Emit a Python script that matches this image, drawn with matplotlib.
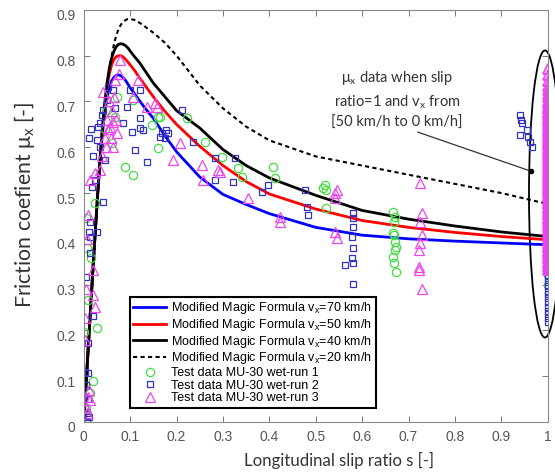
import numpy as np
import matplotlib.pyplot as plt
import matplotlib.transforms as mtransforms
from matplotlib.patches import Ellipse

plt.rcParams['font.family'] = ['Liberation Sans', 'DejaVu Sans']
plt.rcParams['mathtext.fontset'] = 'custom'
plt.rcParams['mathtext.rm'] = 'Liberation Sans'
plt.rcParams['mathtext.it'] = 'Liberation Sans:italic'

#--------- model curves (Modified Magic Formula) ---------
s_curve = [0, 0.01, 0.02, 0.03, 0.035, 0.04, 0.045, 0.05, 0.055, 0.06, 0.065, 0.07,
           0.075, 0.08, 0.085, 0.09, 0.095, 0.10, 0.11, 0.12, 0.13, 0.15, 0.175, 0.2,
           0.25, 0.3, 0.35, 0.4, 0.5, 0.6, 0.7, 0.8, 0.9, 1.0]
mu_70 = [0, 0.17, 0.34, 0.50, 0.57, 0.63, 0.675, 0.708, 0.73, 0.745, 0.753, 0.757,
         0.758, 0.756, 0.752, 0.746, 0.738, 0.73, 0.716, 0.702, 0.688, 0.663, 0.625, 0.59,
         0.535, 0.497, 0.475, 0.455, 0.425, 0.408, 0.400, 0.395, 0.391, 0.387]
mu_50 = [0, 0.17, 0.34, 0.50, 0.575, 0.64, 0.69, 0.73, 0.76, 0.78, 0.792, 0.798,
         0.80, 0.80, 0.797, 0.792, 0.786, 0.78, 0.767, 0.752, 0.738, 0.71, 0.678, 0.65,
         0.602, 0.56, 0.525, 0.498, 0.465, 0.44, 0.425, 0.414, 0.405, 0.398]
mu_40 = [0, 0.17, 0.34, 0.50, 0.575, 0.64, 0.695, 0.74, 0.773, 0.795, 0.81, 0.82,
         0.825, 0.826, 0.825, 0.822, 0.817, 0.81, 0.797, 0.785, 0.77, 0.74, 0.71, 0.68,
         0.642, 0.595, 0.56, 0.533, 0.495, 0.462, 0.443, 0.428, 0.415, 0.405]
mu_20 = [0, 0.16, 0.33, 0.49, 0.565, 0.63, 0.685, 0.73, 0.77, 0.80, 0.825, 0.845,
         0.858, 0.868, 0.874, 0.878, 0.88, 0.88, 0.878, 0.872, 0.865, 0.85, 0.828, 0.80,
         0.735, 0.685, 0.645, 0.615, 0.58, 0.56, 0.54, 0.52, 0.50, 0.476]

#--------- test data ---------
# run 1
s_run1 = [0.0, 0.028, 0.024, 0.004, 0.009, 0.013, 0.015, 0.004, 0.02, 0.006,
          0.05, 0.06, 0.067, 0.071, 0.045, 0.088, 0.106, 0.106, 0.147, 0.159,
          0.164, 0.159, 0.222, 0.261, 0.297, 0.332, 0.34, 0.407, 0.412, 0.519,
          0.523, 0.516, 0.523, 0.666, 0.67, 0.668, 0.666, 0.668, 0.67, 0.672,
          0.67, 0.666, 0.668, 0.672]
mu_run1 = [0.197, 0.205, 0.478, 0.446, 0.266, 0.063, 0.358, 0.03, 0.09, 0.38,
           0.681, 0.609, 0.666, 0.71, 0.64, 0.557, 0.54, 0.703, 0.649, 0.666,
           0.666, 0.598, 0.664, 0.612, 0.579, 0.555, 0.535, 0.557, 0.533, 0.518,
           0.507, 0.511, 0.467, 0.459, 0.448, 0.437, 0.413, 0.408, 0.393, 0.382,
           0.376, 0.36, 0.347, 0.328]
# run 1 at s = 1 (locked wheel)
mu_run1_lock = [0.30, 0.32, 0.34, 0.36, 0.38, 0.40, 0.42, 0.44, 0.46, 0.48, 0.50,
                0.52, 0.54, 0.56, 0.58, 0.60, 0.62, 0.64, 0.66, 0.68, 0.70, 0.72]

# run 2
s_run2 = [0.0, 0.009, 0.002, 0.004, 0.011, 0.013, 0.013, 0.019, 0.028, 0.041,
          0.013, 0.009, 0.006, 0.002, 0.004, 0.008, 0.006, 0.011, 0.011, 0.015,
          0.02, 0.017, 0.024, 0.028, 0.030, 0.034, 0.039, 0.041, 0.05, 0.045,
          0.034, 0.067, 0.093, 0.084, 0.11, 0.136, 0.121, 0.103, 0.127, 0.099,
          0.052, 0.063, 0.178, 0.168, 0.175, 0.235, 0.211, 0.121, 0.121, 0.164,
          0.181, 0.282, 0.325, 0.321, 0.282, 0.384, 0.397, 0.476, 0.48, 0.483,
          0.58, 0.58, 0.58, 0.578, 0.58, 0.578, 0.58, 0.563, 0.58,
          0.94, 0.942, 0.944, 0.94, 0.955, 0.957, 0.961, 0.965]
mu_run2 = [0.055, 0.107, 0.11, 0.317, 0.415, 0.437, 0.404, 0.232, 0.415, 0.48,
           0.369, 0.172, 0.02, 0.03, 0.08, 0.05, 0.0, 0.01, 0.62, 0.64,
           0.58, 0.513, 0.529, 0.616, 0.644, 0.653, 0.67, 0.681, 0.703, 0.572,
           0.6, 0.686, 0.688, 0.653, 0.594, 0.568, 0.664, 0.634, 0.638, 0.725,
           0.732, 0.725, 0.638, 0.631, 0.62, 0.612, 0.681, 0.642, 0.725, 0.623,
           0.631, 0.577, 0.577, 0.524, 0.529, 0.502, 0.518, 0.507, 0.47, 0.452,
           0.457, 0.445, 0.426, 0.404, 0.38, 0.358, 0.347, 0.343, 0.302,
           0.671, 0.66, 0.653, 0.627, 0.638, 0.623, 0.612, 0.6]
mu_run2_lock = [0.218, 0.226, 0.235, 0.243, 0.252, 0.261, 0.27, 0.279, 0.287, 0.296,
                0.305, 0.314, 0.322, 0.33, 0.36, 0.40, 0.44, 0.48, 0.52, 0.56, 0.60,
                0.64, 0.68, 0.70]

# run 3
s_run3 = [0.009, 0.006, 0.004, 0.002, 0.002, 0.009, 0.013, 0.019, 0.024, 0.019,
          0.004, 0.011, 0.006, 0.013, 0.024, 0.056, 0.063, 0.071, 0.078, 0.067,
          0.106, 0.136, 0.157, 0.192, 0.116, 0.153, 0.207, 0.254, 0.293, 0.256,
          0.289, 0.353, 0.422, 0.422, 0.541, 0.541, 0.545, 0.541, 0.545, 0.724,
          0.728, 0.724, 0.728, 0.724, 0.722, 0.722, 0.722, 0.728,
          0.045, 0.05, 0.055, 0.06, 0.048, 0.058, 0.065, 0.07, 0.052, 0.062,
          0.04, 0.035, 0.042, 0.075]
mu_run3 = [0.452, 0.4, 0.29, 0.227, 0.18, 0.055, 0.048, 0.332, 0.252, 0.277,
           0.03, 0.07, 0.02, 0.529, 0.544, 0.644, 0.6, 0.631, 0.79, 0.747,
           0.71, 0.688, 0.688, 0.572, 0.747, 0.697, 0.609, 0.561, 0.546, 0.529,
           0.55, 0.489, 0.448, 0.437, 0.5, 0.489, 0.507, 0.415, 0.402, 0.522,
           0.457, 0.437, 0.408, 0.391, 0.376, 0.339, 0.332, 0.291,
           0.62, 0.66, 0.70, 0.68, 0.60, 0.62, 0.71, 0.66, 0.64, 0.655,
           0.58, 0.55, 0.72, 0.76]
mu_run3_lock = [0.770, 0.757, 0.745, 0.734, 0.726, 0.717, 0.710, 0.702, 0.697, 0.691,
                0.686, 0.683, 0.678, 0.674, 0.671, 0.666, 0.662, 0.659, 0.655, 0.650,
                0.647, 0.643, 0.638, 0.635, 0.631, 0.626, 0.623, 0.619, 0.614, 0.611,
                0.607, 0.602, 0.599, 0.595, 0.590, 0.587, 0.583, 0.578, 0.575, 0.571,
                0.566, 0.563, 0.559, 0.554, 0.551, 0.547, 0.542, 0.539, 0.535, 0.530,
                0.527, 0.523, 0.518, 0.515, 0.511, 0.506, 0.503, 0.499, 0.494, 0.491,
                0.487, 0.482, 0.479, 0.475, 0.470, 0.467, 0.463, 0.458, 0.455, 0.451,
                0.446, 0.443, 0.439, 0.434, 0.431, 0.427, 0.422, 0.419, 0.415, 0.410,
                0.407, 0.403, 0.398, 0.395, 0.391, 0.386, 0.383, 0.379, 0.374, 0.371,
                0.367, 0.362, 0.359, 0.355, 0.350, 0.347, 0.343, 0.338, 0.335, 0.331]

#--------- plotting ---------
fig1 = plt.figure(figsize=(5.55, 4.72), dpi=100)
ax1 = fig1.add_axes([0.151, 0.106, 0.836, 0.873])

ax1.plot(s_curve, mu_70, '-', color='#0000ff', lw=2.0, label=r'Modified Magic Formula v$_\mathrm{x}$=70 km/h')
ax1.plot(s_curve, mu_50, '-', color='#ff0000', lw=2.0, label=r'Modified Magic Formula v$_\mathrm{x}$=50 km/h')
ax1.plot(s_curve, mu_40, '-', color='black', lw=2.0, label=r'Modified Magic Formula v$_\mathrm{x}$=40 km/h')
ax1.plot(s_curve, mu_20, '--', color='black', lw=1.5, dashes=(2, 1.6), label=r'Modified Magic Formula v$_\mathrm{x}$=20 km/h')

green = '#44dd44'
blue = '#3333bb'
magenta = '#ee44ee'
ax1.plot(s_run1, mu_run1, 'o', ms=6, mfc='none', mec=green, mew=0.9, label='Test data MU-30 wet-run 1')
ax1.plot(s_run2, mu_run2, 's', ms=5, mfc='none', mec=blue, mew=0.9, label='Test data MU-30 wet-run 2')
ax1.plot(s_run3, mu_run3, '^', ms=6.5, mfc='none', mec=magenta, mew=0.9, label='Test data MU-30 wet-run 3')

# locked wheel points, all at slip ratio 1
ax1.plot([1.0] * len(mu_run1_lock), mu_run1_lock, 'o', ms=6, mfc='none', mec=green, mew=0.9)
ax1.plot([1.0] * len(mu_run2_lock), mu_run2_lock, 's', ms=5, mfc='none', mec=blue, mew=0.9)
ax1.plot([1.0] * len(mu_run3_lock), mu_run3_lock, '^', ms=6.5, mfc='none', mec=magenta, mew=1.3)

# ellipse around the s=1 points and the note
ell = Ellipse((0.994, 0.498), 0.069, 0.627, fill=False, ec='black', lw=1.3, clip_on=False)
ax1.add_patch(ell)
ax1.plot([0.72, 0.963], [0.633, 0.548], '-', color='#333333', lw=0.9)
ax1.plot([0.963], [0.548], 'o', color='black', ms=3)
ax1.text(0.675, 0.77, r'$\mathregular{\mu_x}$ data when slip' '\n' r'ratio=1 and v$_\mathregular{x}$ from' '\n' '[50 km/h to 0 km/h]',
         ha='center', va='top', fontsize=10.5, color='#333333', family=['Lato', 'DejaVu Sans'],
         linespacing=1.45)

ax1.set_xlim([0, 1])
ax1.set_ylim([0, 0.9])
ax1.set_xticks(np.arange(0, 1.01, 0.1))
ax1.set_yticks(np.arange(0, 0.91, 0.1))
ax1.set_xticklabels(['0', '0.1', '0.2', '0.3', '0.4', '0.5', '0.6', '0.7', '0.8', '0.9', '1'])
ax1.set_yticklabels(['0', '0.1', '0.2', '0.3', '0.4', '0.5', '0.6', '0.7', '0.8', '0.9'])
ax1.tick_params(direction='in', length=4, width=0.7, color='#777777', labelcolor='#555555',
                labelsize=10, top=True, right=True, pad=6)
for sp in ax1.spines.values():
    sp.set_color('#888888')
    sp.set_linewidth(0.8)

# MATLAB-like small downward shift of y tick labels
offset = mtransforms.ScaledTranslation(0, -5 / 100, fig1.dpi_scale_trans)
for lbl in ax1.get_yticklabels():
    lbl.set_transform(lbl.get_transform() + offset)

ax1.set_xlabel('Longitudinal slip ratio s [-]', fontsize=12.1, color='#333333', family=['Lato', 'DejaVu Sans'])
ax1.set_ylabel(r'Friction coefient $\mathregular{\mu_x}$ [-]', fontsize=15.3, color='#333333', family=['Lato', 'DejaVu Sans'])
ax1.xaxis.set_label_coords(0.55, -0.072)
ax1.yaxis.label.set_rotation_mode('default')
ax1.yaxis.label.set_va('center')
ax1.yaxis.set_label_coords(-0.127, 0.527)

leg = ax1.legend(loc='lower left', bbox_to_anchor=(0.099, 0.034), borderaxespad=0,
                 fontsize=9, frameon=True, fancybox=False, handlelength=2.6,
                 labelspacing=0.05, borderpad=0.3, handletextpad=0.4)
leg.get_frame().set_edgecolor('black')
leg.get_frame().set_linewidth(1.5)
leg.get_frame().set_alpha(1)

fig1.savefig('out.png', dpi=100)
